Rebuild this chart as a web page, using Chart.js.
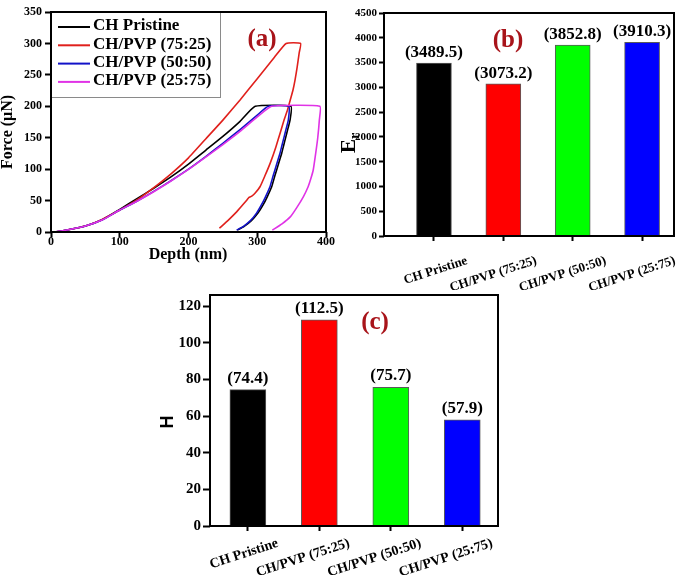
<!DOCTYPE html>
<html>
<head>
<meta charset="utf-8">
<title>Nanoindentare CH / CH-PVP</title>
<script src="https://cdn.jsdelivr.net/npm/chart.js@4.4.1/dist/chart.umd.min.js"></script>
<style>
  html, body { margin: 0; padding: 0; background: #fff; }
  body { position: relative; width: 685px; height: 575px; overflow: hidden; }
  canvas { position: absolute; }
</style>
</head>
<body>
<canvas id="chartA" width="340" height="264" style="left:0;top:0"></canvas>
<canvas id="chartB" width="345" height="290" style="left:340px;top:0"></canvas>
<canvas id="chartC" width="400" height="295" style="left:150px;top:280px"></canvas>
<script>
var SERIF = "'Liberation Serif', 'Times New Roman', serif"
var SANS = "'Liberation Sans', Arial, sans-serif"

// ---- (a) curbe forta - adancime ----
var depthTicks = [0, 100, 200, 300, 400]
var forceTicks = [0, 50, 100, 150, 200, 250, 300, 350]

var seriesNames = ["CH Pristine", "CH/PVP (75:25)", "CH/PVP (50:50)", "CH/PVP (25:75)"]

var pristineDepth = [0, 10, 25, 50, 75, 100, 125, 150, 175, 200, 225, 250, 275, 297, 349, 347.7, 344.5, 341.5, 338.5, 335.5, 330.5, 325.5, 321, 314.5, 308.5, 301, 291.5, 281, 271]
var pristineForce = [0, 0.8, 3.5, 9.5, 20, 36, 53, 70, 88, 108, 130, 152, 176, 200, 200, 178, 164, 151, 138, 125, 107, 89, 72, 56, 43, 30, 18, 9, 3]

var pvp7525Depth = [0, 10, 25, 50, 75, 100, 125, 150, 175, 200, 225, 250, 275, 300, 325, 342, 363, 361, 358, 355, 352, 348, 344, 339, 334, 327, 319, 311, 304, 297, 292, 288, 285, 278, 270, 258, 245]
var pvp7525Force = [0, 0.8, 3.5, 9.5, 20.5, 35, 51, 71, 93, 118, 148, 178, 210, 244, 278, 300, 300, 285, 262, 242, 226, 210, 194, 178, 160, 135, 110, 89, 72, 62, 57, 55, 51, 42, 32, 19, 6]

var pvp5050Depth = [0, 10, 25, 50, 75, 100, 125, 150, 175, 200, 225, 250, 275, 300, 316, 346, 345.2, 342, 339, 336, 333, 328, 323, 318.5, 312, 306, 299, 290, 280, 270]
var pvp5050Force = [0, 0.8, 3.5, 9.5, 19.5, 35, 49, 65, 82, 100, 120, 141, 163, 186, 200, 200, 178, 164, 151, 138, 125, 107, 89, 72, 56, 43, 30, 18, 9, 3]

var pvp2575Depth = [0, 10, 25, 50, 75, 100, 125, 150, 175, 200, 225, 250, 275, 300, 321, 391, 390.3, 388, 385, 381.5, 378, 374, 367, 357, 348, 336, 322]
var pvp2575Force = [0, 0.8, 3.5, 9.5, 19.5, 35, 49, 64.5, 81.5, 99.5, 119, 139, 160, 183, 200, 200, 178, 150, 125, 99, 85, 72, 56, 38, 24, 13, 3]

// ---- (b) Er si (c) H ----
var sampleNames = ["CH Pristine", "CH/PVP (75:25)", "CH/PVP (50:50)", "CH/PVP (25:75)"]
var erValues = [3489.5, 3073.2, 3852.8, 3910.3]
var erTicks = [0, 500, 1000, 1500, 2000, 2500, 3000, 3500, 4000, 4500]
var hValues = [74.4, 112.5, 75.7, 57.9]
var hTicks = [0, 20, 40, 60, 80, 100, 120]

var lineColors = ["#000000", "#e0201c", "#1212c8", "#e033e6"]
var barColors = ["#000000", "#ff0000", "#00ff00", "#0000ff"]
var panelLetterColor = "#a8141a"

function toPoints(xs, ys) {
  return xs.map(function (x, i) {
    return { x: x, y: ys[i] }
  })
}

function fixedTicks(list) {
  return function (scale) {
    scale.ticks = list.map(function (v) {
      return { value: v }
    })
  }
}

function plainNumber(v) {
  return String(v)
}

// chenar negru in jurul zonei de desen
var framePlugin = {
  id: "frame",
  afterDraw: function (chart) {
    var a = chart.chartArea
    var ctx = chart.ctx
    ctx.save()
    ctx.strokeStyle = "#000"
    ctx.lineWidth = 2
    ctx.strokeRect(a.left, a.top, a.right - a.left, a.bottom - a.top)
    ctx.restore()
  },
}

// texte libere: titluri de axe, (a), (b), (c)
var textPlugin = {
  id: "panelText",
  afterDraw: function (chart, args, opts) {
    var ctx = chart.ctx
    ;(opts.items || []).forEach(function (t) {
      ctx.save()
      ctx.translate(t.x, t.y)
      if (t.rotate) ctx.rotate(t.rotate)
      ctx.fillStyle = t.color || "#000"
      ctx.textBaseline = "middle"
      if (t.sub) {
        ctx.font = t.font
        var w1 = ctx.measureText(t.text).width
        ctx.font = t.subFont
        var w2 = ctx.measureText(t.sub).width
        var start = -(w1 + w2) / 2
        ctx.textAlign = "left"
        ctx.font = t.font
        ctx.fillText(t.text, start, 0)
        ctx.font = t.subFont
        ctx.fillText(t.sub, start + w1, t.subShift)
      } else {
        ctx.font = t.font
        ctx.textAlign = "center"
        ctx.fillText(t.text, 0, 0)
      }
      ctx.restore()
    })
  },
}

// legenda cu chenar, in coltul stanga-sus al graficului (a)
var legendBoxPlugin = {
  id: "legendBox",
  afterDraw: function (chart) {
    var a = chart.chartArea
    var ctx = chart.ctx
    var x0 = a.left
    var y0 = a.top
    ctx.save()
    ctx.fillStyle = "#fff"
    ctx.fillRect(x0, y0, 169, 85)
    ctx.strokeStyle = "#8a8a8a"
    ctx.lineWidth = 1
    ctx.strokeRect(x0 + 0.5, y0 + 0.5, 169, 85)
    chart.data.datasets.forEach(function (ds, i) {
      var cy = y0 + 14 + i * 18.3
      ctx.strokeStyle = ds.borderColor
      ctx.lineWidth = 2
      ctx.beginPath()
      ctx.moveTo(x0 + 7, cy + 1)
      ctx.lineTo(x0 + 39, cy + 1)
      ctx.stroke()
      ctx.fillStyle = "#000"
      ctx.font = "bold 17px " + SERIF
      ctx.textAlign = "left"
      ctx.textBaseline = "middle"
      ctx.fillText(ds.label, x0 + 42, cy)
    })
    ctx.restore()
  },
}

// valorile in paranteza deasupra barelor
var valueLabelPlugin = {
  id: "valueLabels",
  afterDatasetsDraw: function (chart, args, opts) {
    var ctx = chart.ctx
    var meta = chart.getDatasetMeta(0)
    var values = chart.data.datasets[0].data
    ctx.save()
    ctx.font = "bold " + opts.size + "px " + SERIF
    ctx.fillStyle = "#000"
    ctx.textAlign = "center"
    ctx.textBaseline = "alphabetic"
    meta.data.forEach(function (bar, i) {
      ctx.fillText("(" + values[i].y.toFixed(1) + ")", bar.x, bar.y - opts.gap)
    })
    ctx.restore()
  },
}

function lineDataset(i, xs, ys, order) {
  return {
    label: seriesNames[i],
    data: toPoints(xs, ys),
    borderColor: lineColors[i],
    backgroundColor: lineColors[i],
    borderWidth: 1.6,
    pointRadius: 0,
    tension: 0.15,
    fill: false,
    order: order,
  }
}

// ---------- (a) ----------
new Chart(document.getElementById("chartA"), {
  type: "line",
  data: {
    datasets: [
      lineDataset(0, pristineDepth, pristineForce, 3),
      lineDataset(1, pvp7525Depth, pvp7525Force, 2),
      lineDataset(2, pvp5050Depth, pvp5050Force, 1),
      lineDataset(3, pvp2575Depth, pvp2575Force, 0),
    ],
  },
  options: {
    responsive: false,
    animation: false,
    layout: { padding: { left: 0, right: 14, top: 12, bottom: 0 } },
    scales: {
      x: {
        type: "linear",
        min: 0,
        max: 400,
        afterBuildTicks: fixedTicks(depthTicks),
        afterFit: function (s) {
          s.height = 32
          s.paddingLeft = 0
          s.paddingRight = 0
        },
        border: { display: false },
        grid: { drawOnChartArea: false, drawTicks: true, tickLength: 5, tickWidth: 2, tickColor: "#000" },
        ticks: { color: "#000", padding: -2, maxRotation: 0, callback: plainNumber, font: { size: 12, weight: "bold", family: SERIF } },
      },
      y: {
        type: "linear",
        min: 0,
        max: 350,
        afterBuildTicks: fixedTicks(forceTicks),
        afterFit: function (s) {
          s.width = 51
        },
        border: { display: false },
        grid: { drawOnChartArea: false, drawTicks: true, tickLength: 6, tickWidth: 2, tickColor: "#000" },
        ticks: { color: "#000", padding: 3, callback: plainNumber, font: { size: 12, weight: "bold", family: SERIF } },
      },
    },
    plugins: {
      legend: { display: false },
      tooltip: { enabled: false },
      panelText: {
        items: [
          { text: "Force (\u03bcN)", x: 8, y: 132, rotate: -Math.PI / 2, font: "bold 16px " + SERIF },
          { text: "Depth (nm)", x: 188, y: 255, font: "bold 16px " + SERIF },
          { text: "(a)", x: 262, y: 40, font: "bold 25px " + SERIF, color: panelLetterColor },
        ],
      },
    },
  },
  plugins: [legendBoxPlugin, framePlugin, textPlugin],
})

// ---------- (b) si (c) ----------
function makeBarChart(id, values, yTicks, yMax, cfg) {
  return new Chart(document.getElementById(id), {
    type: "bar",
    data: {
      datasets: [
        {
          data: toPoints([1, 2, 3, 4], values),
          backgroundColor: barColors,
          borderColor: "#5a5a5a",
          borderWidth: 1,
          barThickness: cfg.barWidth,
        },
      ],
    },
    options: {
      responsive: false,
      animation: false,
      layout: { padding: cfg.padding },
      scales: {
        x: {
          type: "linear",
          min: cfg.xMin,
          max: cfg.xMax,
          offset: false,
          afterBuildTicks: fixedTicks([1, 2, 3, 4]),
          afterFit: function (s) {
            s.height = cfg.xHeight
            s.paddingLeft = 0
            s.paddingRight = 0
          },
          border: { display: false },
          grid: { offset: false, drawOnChartArea: false, drawTicks: true, tickLength: 5, tickWidth: 2, tickColor: "#000" },
          ticks: {
            color: "#000",
            autoSkip: false,
            minRotation: 18,
            maxRotation: 18,
            labelOffset: cfg.labelOffset,
            padding: cfg.labelPad,
            font: { size: cfg.xFont, weight: "bold", family: SERIF },
            callback: function (v) {
              return sampleNames[v - 1] || ""
            },
          },
        },
        y: {
          type: "linear",
          min: 0,
          max: yMax,
          afterBuildTicks: fixedTicks(yTicks),
          afterFit: function (s) {
            s.width = cfg.yWidth
          },
          border: { display: false },
          grid: { drawOnChartArea: false, drawTicks: true, tickLength: cfg.yTickLen, tickWidth: 2, tickColor: "#000" },
          ticks: { color: "#000", padding: 2, callback: plainNumber, font: { size: cfg.yFont, weight: "bold", family: SERIF } },
        },
      },
      plugins: {
        legend: { display: false },
        tooltip: { enabled: false },
        valueLabels: { size: cfg.valueSize, gap: cfg.valueGap },
        panelText: { items: cfg.texts },
      },
    },
    plugins: [valueLabelPlugin, framePlugin, textPlugin],
  })
}

makeBarChart("chartB", erValues, erTicks, 4500, {
  xMin: 0.28,
  xMax: 4.46,
  barWidth: 35,
  padding: { left: 0, right: 11, top: 13, bottom: 0 },
  yWidth: 44,
  xHeight: 54,
  yFont: 11,
  yTickLen: 5,
  xFont: 13,
  labelOffset: 33,
  labelPad: 12,
  valueSize: 17,
  valueGap: 6,
  texts: [
    { text: "E", sub: "r", subShift: 5, x: 10, y: 143, rotate: -Math.PI / 2, font: "bold 21px " + SERIF, subFont: "bold 14px " + SERIF },
    { text: "(b)", x: 168, y: 41, font: "bold 25px " + SERIF, color: panelLetterColor },
  ],
})

makeBarChart("chartC", hValues, hTicks, 126, {
  xMin: 0.47,
  xMax: 4.5,
  barWidth: 36,
  padding: { left: 0, right: 52, top: 15, bottom: 0 },
  yWidth: 60,
  xHeight: 49,
  yFont: 15,
  yTickLen: 7,
  xFont: 14,
  labelOffset: 30,
  labelPad: 4,
  valueSize: 17,
  valueGap: 7,
  texts: [
    { text: "H", x: 18, y: 142, rotate: -Math.PI / 2, font: "bold 18px " + SANS },
    { text: "(c)", x: 225, y: 43, font: "bold 25px " + SERIF, color: panelLetterColor },
  ],
})
</script>
</body>
</html>
